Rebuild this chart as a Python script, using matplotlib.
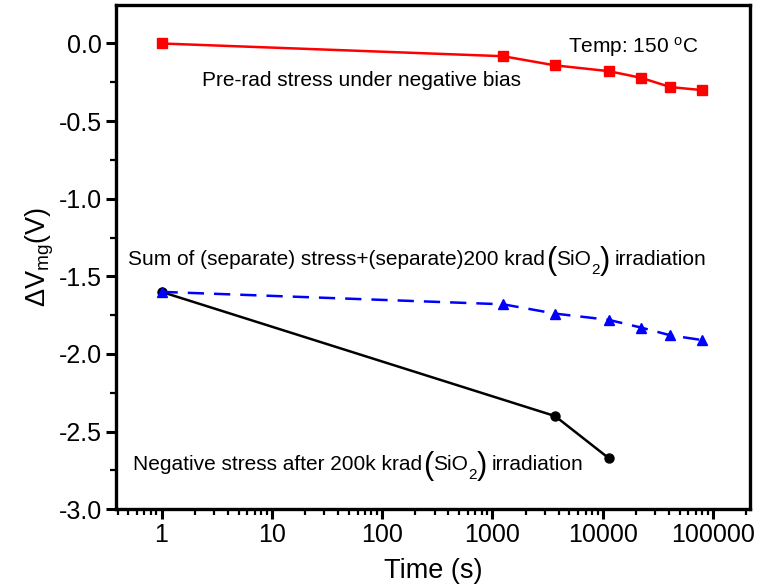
import numpy as np
import matplotlib
matplotlib.use("Agg")
import matplotlib.pyplot as plt
from matplotlib.ticker import FixedLocator, FuncFormatter, LogLocator, MultipleLocator

plt.rcParams['font.family'] = ['Liberation Sans', 'DejaVu Sans']
plt.rcParams['mathtext.fontset'] = 'custom'
plt.rcParams['mathtext.rm'] = 'Liberation Sans'
plt.rcParams['mathtext.it'] = 'Liberation Sans:italic'
plt.rcParams['mathtext.bf'] = 'Liberation Sans:bold'

# stress time (s)
t_prerad = [1, 1250, 3700, 11300, 22300, 41200, 79000]
dv_prerad = [0.0, -0.082, -0.141, -0.178, -0.221, -0.281, -0.300]

t_sum = [1, 1250, 3700, 11300, 22300, 41200, 79000]
dv_sum = [-1.60, -1.68, -1.74, -1.78, -1.83, -1.88, -1.91]

t_irr = [1, 3700, 11300]
dv_irr = [-1.60, -2.40, -2.67]

xticks = [1, 10, 100, 1000, 10000, 100000]
yticks = [0.0, -0.5, -1.0, -1.5, -2.0, -2.5, -3.0]

fig = plt.figure(figsize=(7.62, 5.88), dpi=100)
ax = fig.add_axes([0.152, 0.134, 0.832, 0.857])

ax.plot(t_prerad, dv_prerad, color='#ff0000', lw=1.8, marker='s', ms=6.5,
        zorder=3)
ax.plot(t_irr, dv_irr, color='black', lw=1.8, marker='o', ms=6.5, zorder=3)
ax.plot(t_sum, dv_sum, color='#0000ff', lw=1.8, ls=(0, (6.5, 4)), marker='^',
        ms=7.5, zorder=4)

ax.set_xscale('log')
ax.set_xlim(0.385, 2.16e5)
ax.set_ylim(-3.0, 0.246)

ax.xaxis.set_major_locator(FixedLocator(xticks))
ax.xaxis.set_major_formatter(FuncFormatter(lambda v, p: f"{v:.0f}"))
ax.xaxis.set_minor_locator(LogLocator(base=10, subs=np.arange(2, 10)))
ax.yaxis.set_major_locator(FixedLocator(yticks))
ax.yaxis.set_major_formatter(FuncFormatter(lambda v, p: f"{v:.1f}"))
ax.yaxis.set_minor_locator(MultipleLocator(0.25))

ax.tick_params(which='major', direction='out', length=7, width=2.2,
               labelsize=18, pad=3)
ax.tick_params(which='minor', direction='out', length=4, width=1.6)
ax.tick_params(top=False, right=False, which='both')
for s in ax.spines.values():
    s.set_linewidth(2.4)

ax.set_xlabel('Time (s)', fontsize=19.5, labelpad=8)
ax.set_ylabel(r'$\Delta$V$_{\mathrm{mg}}$(V)', fontsize=19.5, labelpad=2)

renderer = fig.canvas.get_renderer()


def rich_text(x, y, pieces):
    # pieces: (text, fontsize, vertical shift in px, gap before in px)
    dx = 0
    for s, size, dy, gap in pieces:
        dx += gap
        t = ax.annotate(s, xy=(x, y), xytext=(dx, dy),
                        textcoords='offset pixels', fontsize=size,
                        va='baseline', ha='left')
        dx += t.get_window_extent(renderer).width


def sio2_label(x, y, before, after):
    rich_text(x, y, [
        (before, 15, 0, 0),
        ('(', 22, -4, 1),
        ('SiO', 15, 0, 0),
        ('2', 11, -9, 0),
        (')', 22, -4, 0),
        (after, 15, 0, 5),
    ])


ax.text(4830, -0.024, r'Temp: 150 $^{\mathrm{o}}$C', fontsize=15, va='center')
ax.text(2.32, -0.236, 'Pre-rad stress under negative bias', fontsize=15,
        va='center')
sio2_label(0.495, -1.425, 'Sum of (separate) stress+(separate)200 krad',
           'irradiation')
sio2_label(0.55, -2.745, 'Negative stress after 200k krad', 'irradiation')

fig.savefig('out.png', dpi=100)
